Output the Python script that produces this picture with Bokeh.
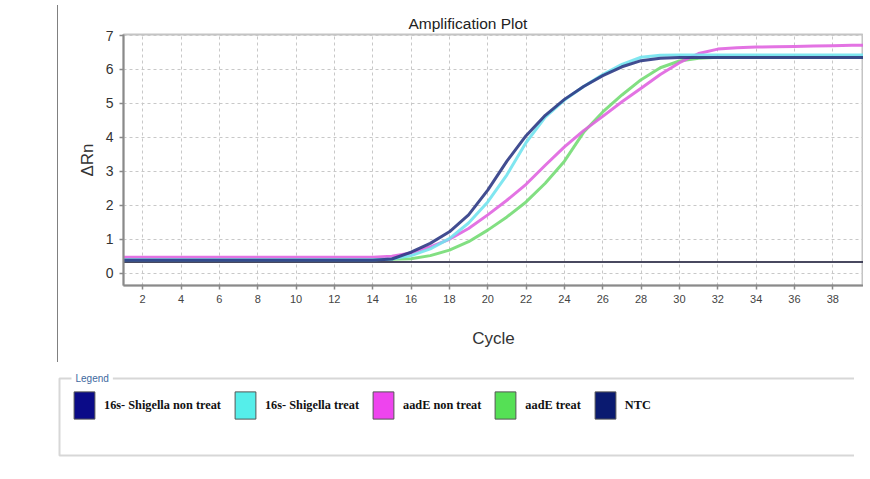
from bokeh.plotting import figure
from bokeh.models import Range1d, FixedTicker, Div, Label, BoxAnnotation, Legend, LegendItem
from bokeh.layouts import column, row
from bokeh.embed import file_html
from bokeh.resources import INLINE

# ---------------- data ----------------
cycles = list(range(1, 41))

s16_non_treat = [0.38] * 14 + [0.42, 0.62, 0.88, 1.22, 1.72, 2.45, 3.30, 4.05, 4.65, 5.12,
                               5.50, 5.82, 6.08, 6.26, 6.33] + [6.35] * 11
s16_treat = [0.40] * 14 + [0.42, 0.52, 0.72, 1.02, 1.48, 2.10, 2.90, 3.85, 4.60, 5.10,
                           5.50, 5.85, 6.15, 6.36, 6.42] + [6.43] * 11
aade_non_treat = [0.47] * 14 + [0.50, 0.60, 0.78, 1.00, 1.32, 1.72, 2.15, 2.62, 3.18, 3.72,
                                4.20, 4.62, 5.05, 5.45, 5.85, 6.20, 6.47, 6.60, 6.64, 6.66,
                                6.67, 6.68, 6.69, 6.70, 6.71, 6.72]
aade_treat = [0.40] * 14 + [0.41, 0.43, 0.52, 0.68, 0.93, 1.27, 1.66, 2.10, 2.65, 3.30,
                            4.15, 4.75, 5.25, 5.70, 6.05, 6.25, 6.33] + [6.36] * 9
ntc = [0.33] * 40

series_names = ["16s- Shigella non treat", "16s- Shigella treat", "aadE non treat", "aadE treat", "NTC"]
series_values = [s16_non_treat, s16_treat, aade_non_treat, aade_treat, ntc]
line_colors = ["#2d3a85", "#72e3ee", "#e064e0", "#74dc74", "#34344e"]
legend_colors = ["#0b0b88", "#55eeea", "#ee44ee", "#55e055", "#0a1a70"]

x_ticks = [2, 4, 6, 8, 10, 12, 14, 16, 18, 20, 22, 24, 26, 28, 30, 32, 34, 36, 38, 40]
y_ticks = [0, 1, 2, 3, 4, 5, 6, 7]

FONT = "Liberation Sans"

# ---------------- main plot ----------------
p = figure(width=800, height=357, x_range=Range1d(1, 39.6), y_range=Range1d(-0.36, 7.03),
           output_backend="svg", toolbar_location=None, title="Amplification Plot",
           min_border_left=60, min_border_right=0, min_border_top=34, min_border_bottom=72)

p.title.align = "left"
p.title.offset = 285
p.title.standoff = 6
p.title.text_font = FONT
p.title.text_font_size = "15.5px"
p.title.text_font_style = "normal"
p.title.text_color = "#222222"

p.outline_line_color = "#c4c4c4"
p.outline_line_width = 2

for ax in (p.xaxis, p.yaxis):
    ax.axis_line_color = "#8a8a8a"
    ax.axis_line_width = 2
    ax.major_tick_line_color = "#8a8a8a"
    ax.major_tick_line_width = 1.5
    ax.minor_tick_line_color = None
    ax.major_label_text_font = FONT
    ax.axis_label_text_font = FONT
    ax.axis_label_text_font_style = "normal"
    ax.axis_label_text_color = "#333333"
    ax.axis_label_text_font_size = "17px"

p.xaxis.ticker = FixedTicker(ticks=x_ticks)
p.yaxis.ticker = FixedTicker(ticks=y_ticks)
p.xaxis.axis_label = "Cycle"
p.yaxis.axis_label = "\u0394Rn"
p.xaxis.major_label_text_font_size = "11px"
p.xaxis.major_label_text_color = "#444444"
p.yaxis.major_label_text_font_size = "14px"
p.yaxis.major_label_text_color = "#333333"
p.xaxis.major_tick_in = 1
p.xaxis.major_tick_out = 4
p.yaxis.major_tick_in = 0
p.yaxis.major_tick_out = 4
p.xaxis.major_label_standoff = 5
p.yaxis.major_label_standoff = 6
p.xaxis.axis_label_standoff = 23
p.yaxis.axis_label_standoff = 6

for g in (p.xgrid, p.ygrid):
    g.grid_line_color = "#c8c8c8"
    g.grid_line_dash = "3 3"
    g.grid_line_width = 1

# NTC first, then curves
draw_order = [4, 3, 2, 1, 0]
for i in draw_order:
    w = 2 if i == 4 else 3
    p.line(cycles, series_values[i], line_color=line_colors[i], line_width=w, line_alpha=0.9)

# ---------------- legend panel ----------------
lg = figure(width=854, height=106, x_range=Range1d(0, 854), y_range=Range1d(0, 106),
            output_backend="svg", toolbar_location=None, min_border=0,
            x_axis_type=None, y_axis_type=None)
lg.outline_line_color = None
lg.background_fill_color = "white"

box = BoxAnnotation(left=59, right=870, bottom=18, top=95, fill_alpha=0,
                    line_color="#7a7a7a", line_width=2)
lg.add_layout(box)

items = []
for name, col in zip(series_names, legend_colors):
    # legend-only proxy swatch, kept outside the visible range
    r = lg.quad(left=[-30], right=[-20], top=[-20], bottom=[-30], fill_color=col,
                line_color="#555555", line_width=1, line_join="miter")
    items.append(LegendItem(label=name, renderers=[r]))

legend = Legend(items=items, orientation="horizontal", location=(71, 51),
                glyph_width=26, glyph_height=34, label_standoff=7, spacing=11,
                padding=0, margin=0, border_line_color=None, background_fill_alpha=0,
                label_text_font="Liberation Serif", label_text_font_style="bold",
                label_text_font_size="12.3px", label_text_color="#111111")
lg.add_layout(legend)

cap = Label(x=71, y=95, text="Legend", text_baseline="middle", text_font=FONT,
            text_font_size="10px", text_color="#4169a0",
            background_fill_color="white", padding=4)
lg.add_layout(cap)

side = Div(width=53, height=357, styles={"border-right": "1px solid #808080"})

layout = column(row(side, p), lg)

open("out.html", "w").write(file_html(layout, INLINE))
